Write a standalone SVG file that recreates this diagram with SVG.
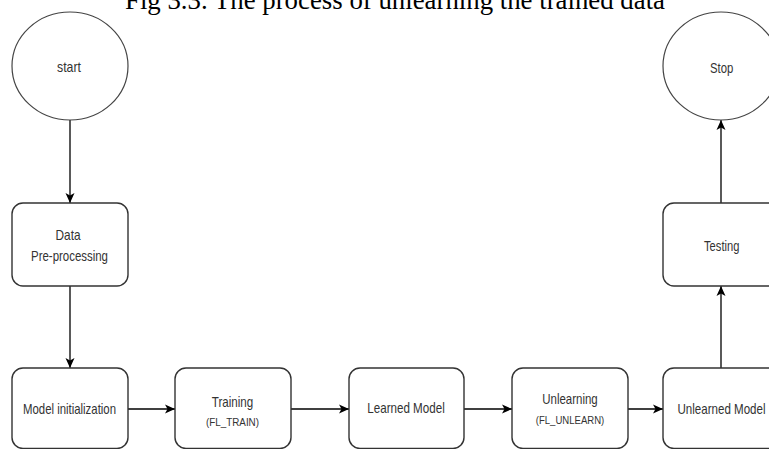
<svg xmlns="http://www.w3.org/2000/svg" width="769" height="449" viewBox="0 0 769 449">
  <style>
    .box { fill: #ffffff; stroke: #333333; stroke-width: 1.4; }
    .circ { fill: #ffffff; stroke: #444444; stroke-width: 1.2; }
    .lbl { font-family: "Liberation Sans", Arial, sans-serif; font-size: 15px; fill: #333333; text-anchor: middle; }
    .sub { font-family: "Liberation Sans", Arial, sans-serif; font-size: 11.5px; fill: #333333; text-anchor: middle; }
    .title { font-family: "Liberation Serif", "Times New Roman", serif; font-size: 26.5px; fill: #000000; }
    .edge { fill: none; stroke: #000000; stroke-width: 1.3; }
  </style>
  <defs>
    <marker id="arrow" markerUnits="userSpaceOnUse" markerWidth="12" markerHeight="12" viewBox="0 0 12 12" refX="11" refY="6" orient="auto">
      <path d="M1,1.5 L11,6 L1,10.5 L3.5,6 Z" fill="#000000"/>
    </marker>
  </defs>
  <rect width="769" height="449" fill="#ffffff"/>
  <text class="title" x="125" y="8.5" textLength="540" lengthAdjust="spacingAndGlyphs">Fig 3.3. The process of unlearning the trained data</text>

  <g id="connectors">
    <line class="edge" x1="70" y1="120" x2="70" y2="203" marker-end="url(#arrow)"/>
    <line class="edge" x1="70" y1="286" x2="70" y2="368" marker-end="url(#arrow)"/>
    <line class="edge" x1="128" y1="409" x2="175" y2="409" marker-end="url(#arrow)"/>
    <line class="edge" x1="291" y1="409" x2="349" y2="409" marker-end="url(#arrow)"/>
    <line class="edge" x1="464" y1="409" x2="512" y2="409" marker-end="url(#arrow)"/>
    <line class="edge" x1="628" y1="409" x2="663" y2="409" marker-end="url(#arrow)"/>
    <line class="edge" x1="721" y1="368" x2="721" y2="286" marker-end="url(#arrow)"/>
    <line class="edge" x1="721" y1="203" x2="721" y2="120" marker-end="url(#arrow)"/>
  </g>

  <g id="start">
    <ellipse class="circ" cx="70" cy="66" rx="58" ry="54"/>
    <text class="lbl" x="69" y="71.5" textLength="24" lengthAdjust="spacingAndGlyphs">start</text>
  </g>
  <g id="data-preprocessing">
    <rect class="box" x="12" y="203" width="116" height="83" rx="11" ry="11"/>
    <text class="lbl" x="68" y="240" textLength="25" lengthAdjust="spacingAndGlyphs">Data</text>
    <text class="lbl" x="69.5" y="260.5" textLength="77" lengthAdjust="spacingAndGlyphs">Pre-processing</text>
  </g>
  <g id="model-initialization">
    <rect class="box" x="12" y="368" width="116" height="80.5" rx="11" ry="11"/>
    <text class="lbl" x="69.5" y="414" textLength="93" lengthAdjust="spacingAndGlyphs">Model initialization</text>
  </g>
  <g id="training">
    <rect class="box" x="175" y="368" width="116" height="80.5" rx="11" ry="11"/>
    <text class="lbl" x="232.5" y="406.5" textLength="41.5" lengthAdjust="spacingAndGlyphs">Training</text>
    <text class="sub" x="232.5" y="425.5" textLength="53" lengthAdjust="spacingAndGlyphs">(FL_TRAIN)</text>
  </g>
  <g id="learned-model">
    <rect class="box" x="349" y="368" width="115" height="80.5" rx="11" ry="11"/>
    <text class="lbl" x="406" y="413" textLength="77.5" lengthAdjust="spacingAndGlyphs">Learned Model</text>
  </g>
  <g id="unlearning">
    <rect class="box" x="512" y="368" width="116" height="80.5" rx="11" ry="11"/>
    <text class="lbl" x="570" y="404" textLength="55.5" lengthAdjust="spacingAndGlyphs">Unlearning</text>
    <text class="sub" x="570" y="424" textLength="68.5" lengthAdjust="spacingAndGlyphs">(FL_UNLEARN)</text>
  </g>
  <g id="unlearned-model">
    <rect class="box" x="663" y="368" width="116" height="80.5" rx="11" ry="11"/>
    <text class="lbl" x="721.5" y="414.3" textLength="88" lengthAdjust="spacingAndGlyphs">Unlearned Model</text>
  </g>
  <g id="testing">
    <rect class="box" x="663" y="203" width="116" height="83" rx="11" ry="11"/>
    <text class="lbl" x="721.7" y="250.7" textLength="35.3" lengthAdjust="spacingAndGlyphs">Testing</text>
  </g>
  <g id="stop">
    <ellipse class="circ" cx="721" cy="66" rx="58" ry="54"/>
    <text class="lbl" x="721.7" y="72.5" textLength="23.3" lengthAdjust="spacingAndGlyphs">Stop</text>
  </g>
</svg>
